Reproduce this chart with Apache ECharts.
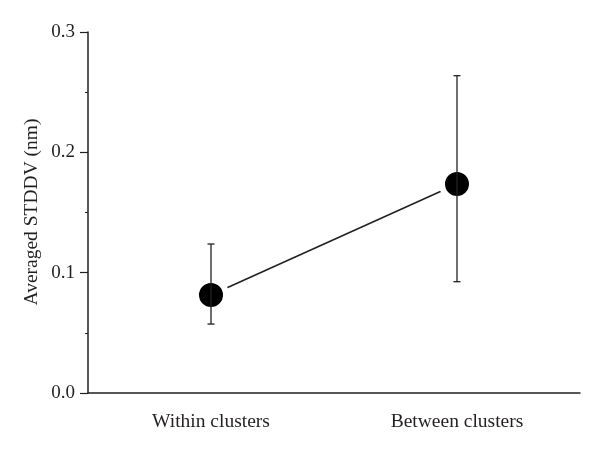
<html>
<head>
<script src="https://cdn.jsdelivr.net/npm/echarts@6/dist/echarts.min.js"></script>
</head>
<body style="margin:0;background:#fff">
<div id="main" style="width:600px;height:451px;"></div>
<script>
var categories = ['Within clusters', 'Between clusters'];
var means = [0.0814, 0.1737];
var lower = [0.0573, 0.0925];
var upper = [0.1238, 0.2637];
var yTicks = [0.0, 0.1, 0.2, 0.3];
var yTitle = 'Averaged STDDV (nm)';

var ink = '#231f20';
var font = 'Liberation Serif';

var chart = echarts.init(document.getElementById('main'));

var errData = categories.map(function (c, i) { return [i, lower[i], upper[i]]; });

chart.setOption({
    animation: false,
    grid: { left: 88, right: 20, top: 32, bottom: 58 },
    // y title placed by hand, the axis name would not move
    graphic: [{
        type: 'text',
        x: 32, y: 212,
        rotation: Math.PI / 2,
        style: {
            text: yTitle, fill: ink, font: '19.5px "Liberation Serif"',
            align: 'center', verticalAlign: 'middle'
        }
    }],
    xAxis: {
        type: 'category',
        data: categories,
        boundaryGap: true,
        axisLine: { lineStyle: { color: ink, width: 1.5 } },
        axisTick: { alignWithLabel: true, length: 7, lineStyle: { color: ink, width: 1.2 } },
        axisLabel: { color: ink, fontFamily: font, fontSize: 19.5, margin: 14 },
        splitLine: { show: false }
    },
    yAxis: {
        type: 'value',
        min: yTicks[0],
        max: yTicks[yTicks.length - 1],
        interval: 0.1,
        axisLine: { show: true, lineStyle: { color: ink, width: 1.5 } },
        axisTick: { show: true, length: 8, lineStyle: { color: ink, width: 1.2 } },
        minorTick: { show: true, splitNumber: 2, length: 3, lineStyle: { color: ink, width: 1 } },
        axisLabel: {
            color: ink, fontFamily: font, fontSize: 19, margin: 13,
            formatter: function (v) { return v.toFixed(1); }
        },
        splitLine: { show: false }
    },
    series: [{
        type: 'line',
        data: means,
        symbol: 'circle',
        symbolSize: 30,
        lineStyle: { color: ink, width: 1.5 },
        itemStyle: { color: '#000', borderColor: '#fff', borderWidth: 6 },
        z: 2
    }, {
        type: 'custom',
        data: errData,
        z: 3,
        renderItem: function (params, api) {
            var x = api.value(0);
            var lo = api.coord([x, api.value(1)]);
            var hi = api.coord([x, api.value(2)]);
            var cap = 3.5;
            var style = { stroke: ink, lineWidth: 1.3, fill: null };
            return {
                type: 'group',
                children: [
                    { type: 'line', shape: { x1: lo[0], y1: lo[1], x2: hi[0], y2: hi[1] }, style: style },
                    { type: 'line', shape: { x1: lo[0] - cap, y1: lo[1], x2: lo[0] + cap, y2: lo[1] }, style: style },
                    { type: 'line', shape: { x1: hi[0] - cap, y1: hi[1], x2: hi[0] + cap, y2: hi[1] }, style: style }
                ]
            };
        }
    }]
});
</script>
</body>
</html>
